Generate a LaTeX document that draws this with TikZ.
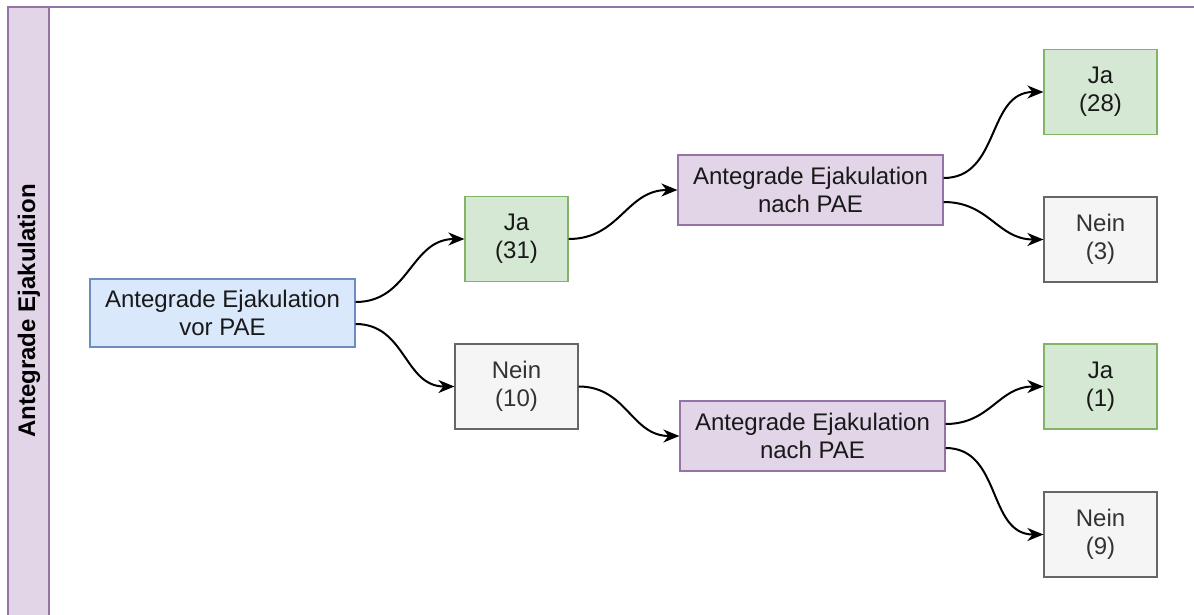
\documentclass[tikz,border=0pt]{standalone}
\usepackage{fontspec}
\setmainfont{Liberation Sans}
\usepackage{tikz}
\usetikzlibrary{shapes,arrows.meta}
\definecolor{lilafill}{HTML}{E1D5E7}
\definecolor{lilarand}{HTML}{9673A6}
\definecolor{blaufill}{HTML}{DAE8FC}
\definecolor{blaurand}{HTML}{6C8EBF}
\definecolor{gruenfill}{HTML}{D5E8D4}
\definecolor{gruenrand}{HTML}{82B366}
\definecolor{graufill}{HTML}{F5F5F5}
\definecolor{graurand}{HTML}{666666}
\definecolor{grautext}{HTML}{333333}
\tikzstyle{kasten}=[rectangle,draw,line width=1.2pt,align=center,inner sep=0pt,font=\fontsize{24}{28}\selectfont,text=black!90]
\tikzstyle{vorbox}=[kasten,draw=blaurand,fill=blaufill,minimum width=265pt,minimum height=68pt]
\tikzstyle{nachbox}=[kasten,draw=lilarand,fill=lilafill,minimum width=265pt,minimum height=70pt]
\tikzstyle{jabox}=[kasten,draw=gruenrand,fill=gruenfill,minimum height=85pt]
\tikzstyle{neinbox}=[kasten,draw=graurand,fill=graufill,text=grautext,minimum height=85pt]
\tikzstyle{kante}=[draw,line width=2pt,-{Stealth[length=16pt,width=13pt,inset=5pt]},out=0,in=180,looseness=1.1]

\begin{document}
\begin{tikzpicture}[x=1pt,y=-1pt]
\useasboundingbox[fill=white] (0,0) rectangle (1194,615);

% lane
\fill[lilafill] (8,7) rectangle (49,615);
\draw[lilarand,line width=1.4pt] (1194,7) -- (8,7) -- (8,615);
\draw[lilarand,line width=1.4pt] (49,7) -- (49,615);
\node[rotate=90,font=\fontsize{24}{28}\selectfont\bfseries] (lane) at (29,311) {Antegrade Ejakulation};

% boxes
\node[vorbox] (vor) at (222.5,313) {Antegrade Ejakulation\\vor PAE};

\node[jabox,minimum width=103pt] (ja31) at (516.5,239) {Ja\\(31)};
\node[neinbox,minimum width=123pt] (nein10) at (516.5,386.5) {Nein\\(10)};

\node[nachbox] (nachA) at (810.5,190) {Antegrade Ejakulation\\nach PAE};
\node[nachbox] (nachB) at (812.5,436) {Antegrade Ejakulation\\nach PAE};

\node[jabox,minimum width=113pt] (ja28) at (1100.5,92) {Ja\\(28)};
\node[neinbox,minimum width=113pt] (nein3) at (1100.5,239.5) {Nein\\(3)};
\node[jabox,minimum width=113pt] (ja1) at (1100.5,386.5) {Ja\\(1)};
\node[neinbox,minimum width=113pt] (nein9) at (1100.5,534.5) {Nein\\(9)};

% edges
\draw[kante] ([yshift=11pt]vor.east) to (ja31.west);
\draw[kante] ([yshift=-11pt]vor.east) to (nein10.west);
\draw[kante] (ja31.east) to (nachA.west);
\draw[kante] (nein10.east) to (nachB.west);
\draw[kante] ([yshift=12pt]nachA.east) to (ja28.west);
\draw[kante] ([yshift=-12pt]nachA.east) to (nein3.west);
\draw[kante] ([yshift=12pt]nachB.east) to (ja1.west);
\draw[kante] ([yshift=-12pt]nachB.east) to (nein9.west);

\end{tikzpicture}
\end{document}
